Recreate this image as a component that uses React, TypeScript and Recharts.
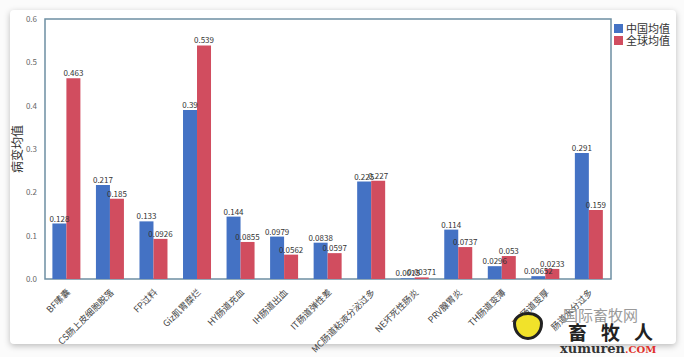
import React from "react";
import { BarChart, Bar, XAxis, YAxis, LabelList, ReferenceArea, Legend } from "recharts";

const categories = [
  "BF嗉囊",
  "CS肠上皮细胞脱落",
  "FP过料",
  "Giz肌胃糜烂",
  "HY肠道充血",
  "IH肠道出血",
  "IT肠道弹性差",
  "MC肠道粘液分泌过多",
  "NE坏死性肠炎",
  "PRV腺胃炎",
  "TH肠道变薄",
  "TK肠道变厚",
  "肠道水分过多",
];
const chinaValues = [0.128, 0.217, 0.133, 0.39, 0.144, 0.0979, 0.0838, 0.225, 0.0015, 0.114, 0.0296, 0.00652, 0.291];
const globalValues = [0.463, 0.185, 0.0926, 0.539, 0.0855, 0.0562, 0.0597, 0.227, 0.00371, 0.0737, 0.053, 0.0233, 0.159];
const yTicks = [0, 0.1, 0.2, 0.3, 0.4, 0.5, 0.6];
const seriesNames = ["中国均值", "全球均值"];

const data = categories.map((c, i) => ({ name: c, china: chinaValues[i], global: globalValues[i] }));

const BLUE = "#4472c4";
const RED = "#d14d5f";
const FONT = "'Noto Sans CJK SC', 'Noto Sans', sans-serif";

const XTick = (props: any) => {
  const { x, y, payload } = props;
  return (
    <text
      x={x + 4}
      y={y + 6}
      transform={`rotate(-45 ${x + 4} ${y + 6})`}
      textAnchor="end"
      fontSize={9}
      fill="#444"
      fontFamily={FONT}
    >
      {payload.value}
    </text>
  );
};

const LegendContent = () => (
  <div style={{ fontFamily: FONT, fontSize: 11, color: "#333", lineHeight: "12px", width: 70 }}>
    {seriesNames.map((n, i) => (
      <div key={n} style={{ display: "flex", alignItems: "center", height: 12 }}>
        <span style={{ display: "inline-block", width: 9, height: 9, background: i === 0 ? BLUE : RED, marginRight: 3 }} />
        <span>{n}</span>
      </div>
    ))}
  </div>
);

export default function App() {
  return (
    <div style={{ position: "absolute", left: 0, top: 0, width: 684, height: 357, background: "#fbfbfb", overflow: "hidden" }}>
      <div
        style={{
          position: "absolute",
          left: 10,
          top: 10,
          width: 666,
          height: 334,
          background: "#fff",
          borderRadius: 4,
          boxShadow: "0 2px 6px rgba(0,0,0,0.25)",
        }}
      />
      <div style={{ position: "absolute", left: 0, top: 0 }}>
        <BarChart
          width={684}
          height={357}
          data={data}
          margin={{ top: 19, right: 3, left: 10, bottom: 0 }}
          barCategoryGap="17%"
          barGap={0}
        >
          <XAxis
            dataKey="name"
            interval={0}
            height={78}
            tick={<XTick />}
            tickLine={false}
            axisLine={false}
          />
          <YAxis
            width={35}
            domain={[0, 0.6]}
            ticks={yTicks}
            tickFormatter={(v: number) => v.toFixed(1)}
            tick={{ fontSize: 8, fill: "#666", fontFamily: FONT }}
            tickLine={false}
            axisLine={false}
            label={{
              value: "病变均值",
              angle: -90,
              position: "insideLeft",
              offset: 8,
              style: { fontSize: 12, fill: "#333", fontFamily: FONT, textAnchor: "middle" },
            }}
          />
          <Legend
            verticalAlign="top"
            align="right"
            layout="vertical"
            content={<LegendContent />}
            wrapperStyle={{ left: 614, top: 22, width: 70 }}
          />
          <Bar dataKey="china" name={seriesNames[0]} fill={BLUE} isAnimationActive={false}>
            <LabelList dataKey="china" position="top" offset={2} style={{ fontSize: 8, fill: "#333", fontFamily: FONT }} />
          </Bar>
          <Bar dataKey="global" name={seriesNames[1]} fill={RED} isAnimationActive={false}>
            <LabelList dataKey="global" position="top" offset={2} style={{ fontSize: 8, fill: "#333", fontFamily: FONT }} />
          </Bar>
          <ReferenceArea y1={0} y2={0.6} fill="none" stroke="#6e8fa2" strokeWidth={1.5} ifOverflow="visible" />
        </BarChart>
      </div>
      <div style={{ position: "absolute", left: 0, top: 0, fontFamily: FONT, lineHeight: 1 }}>
        <div style={{ position: "absolute", left: 563, top: 307, fontSize: 15, color: "#9a9a9a", whiteSpace: "nowrap" }}>国际畜牧网</div>
        <div
          style={{
            position: "absolute",
            left: 513,
            top: 312,
            width: 30,
            height: 28,
            borderRadius: "50% 50% 50% 50% / 40% 40% 60% 60%",
            background: "#f1e22a",
            border: "3px solid #222",
            boxSizing: "border-box",
          }}
        />
        <div style={{ position: "absolute", left: 568, top: 322, fontSize: 19, fontWeight: 700, color: "#222", whiteSpace: "nowrap", letterSpacing: 14 }}>畜牧人</div>
        <div style={{ position: "absolute", left: 560, top: 342, fontSize: 13, fontWeight: 700, color: "#333", whiteSpace: "nowrap", fontFamily: "'DejaVu Serif', serif" }}>
          xumuren<span style={{ color: "#e0302a", fontSize: 10 }}>.COM</span>
        </div>
      </div>
    </div>
  );
}
